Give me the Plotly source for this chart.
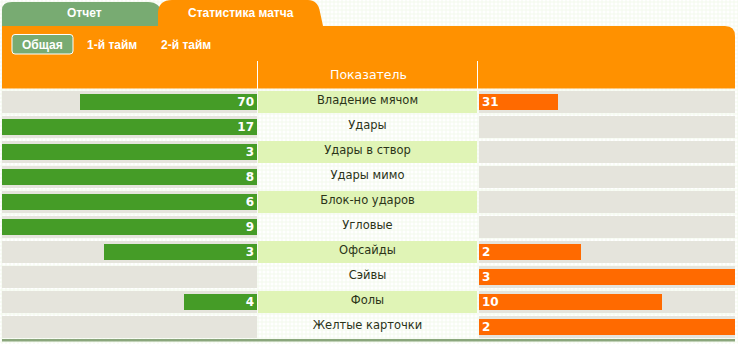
import plotly.graph_objects as go

W, H = 738, 344

# ---- data ----
categories = ["Владение мячом", "Удары", "Удары в створ", "Удары мимо", "Блок-но ударов",
              "Угловые", "Офсайды", "Сэйвы", "Фолы", "Желтые карточки"]
home_values = [70, 17, 3, 8, 6, 9, 3, 0, 4, 0]
away_values = [31, 0, 0, 0, 0, 0, 2, 3, 10, 2]
tab_labels = ["Отчет", "Статистика матча"]
period_labels = ["Общая", "1-й тайм", "2-й тайм"]
header_label = "Показатель"

# colours
C_GRID = "#e6f3d8"
C_TAB_GREEN = "#78ab72"
C_ORANGE = "#ff9100"
C_BAND = "#e5e4dc"
C_CENTER = "#e0f4b6"
C_HOME = "#459c27"
C_AWAY = "#ff6a00"
C_LINE = "#8aa67c"
C_TEXT = "#2b3318"


def px(x):
    return x / W


def py(y):
    return 1 - y / H


home_share = [h / (h + a) if (h + a) > 0 else 0 for h, a in zip(home_values, away_values)]
away_share = [a / (h + a) if (h + a) > 0 else 0 for h, a in zip(home_values, away_values)]
home_text = [str(v) if v > 0 else "" for v in home_values]
away_text = [str(v) if v > 0 else "" for v in away_values]
center_fill = [1 if i % 2 == 0 else 0 for i in range(len(categories))]
full = [1] * len(categories)

fig = go.Figure()

# page background with faint grid pattern (first subplot -> drawn underneath)
fig.add_trace(go.Bar(y=[0], x=[1], orientation="h", width=1,
                     marker=dict(color="white", line=dict(width=0),
                                 pattern=dict(shape="+", size=4, solidity=0.42,
                                              fgcolor=C_GRID, bgcolor="white")),
                     xaxis="x", yaxis="y", hoverinfo="skip", showlegend=False))

num_font = dict(family="DejaVu Sans", size=12, color="white", weight="bold")

# left side
fig.add_trace(go.Bar(y=categories, x=full, orientation="h", width=0.88,
                     marker=dict(color=C_BAND, line=dict(width=0)),
                     xaxis="x2", yaxis="y2", hoverinfo="skip", showlegend=False))
fig.add_trace(go.Bar(y=categories, x=home_share, orientation="h", width=0.64,
                     marker=dict(color=C_HOME, line=dict(width=0)),
                     text=home_text, textposition="inside", insidetextanchor="start",
                     textangle=0, constraintext="none", textfont=num_font,
                     xaxis="x2", yaxis="y2", hoverinfo="skip", showlegend=False))
# right side
fig.add_trace(go.Bar(y=categories, x=full, orientation="h", width=0.88,
                     marker=dict(color=C_BAND, line=dict(width=0)),
                     xaxis="x3", yaxis="y2", hoverinfo="skip", showlegend=False))
fig.add_trace(go.Bar(y=categories, x=away_share, orientation="h", width=0.64,
                     marker=dict(color=C_AWAY, line=dict(width=0)),
                     text=away_text, textposition="inside", insidetextanchor="start",
                     textangle=0, constraintext="none", textfont=num_font,
                     xaxis="x3", yaxis="y2", hoverinfo="skip", showlegend=False))
# centre
fig.add_trace(go.Bar(y=categories, x=center_fill, orientation="h", width=0.88,
                     marker=dict(color=C_CENTER, line=dict(width=0)),
                     xaxis="x4", yaxis="y2", hoverinfo="skip", showlegend=False))
fig.add_trace(go.Scatter(y=categories, x=[0.5] * len(categories), mode="text",
                         text=categories, textposition="middle center",
                         textfont=dict(family="DejaVu Sans", size=11.5, color=C_TEXT),
                         xaxis="x4", yaxis="y2", hoverinfo="skip", showlegend=False))

hidden = dict(showgrid=False, zeroline=False, showticklabels=False, ticks="", showline=False, fixedrange=True)

shapes = []


def rect(x0, y0, x1, y1, color):
    shapes.append(dict(type="rect", xref="paper", yref="paper",
                       x0=px(x0), x1=px(x1), y0=py(y1), y1=py(y0),
                       fillcolor=color, line=dict(width=0), layer="above"))


def path(cmds, color, line=None):
    shapes.append(dict(type="path", xref="paper", yref="paper", path=cmds,
                       fillcolor=color, line=line or dict(width=0), layer="above"))


def P(x, y):
    return f"{px(x):.5f},{py(y):.5f}"


# green tab
path(f"M {P(2,26)} L {P(2,10)} Q {P(2,2)} {P(12,2)} L {P(148,2)} Q {P(160,2)} {P(162,14)} L {P(162,26)} Z",
     C_TAB_GREEN)
# orange tab
path(f"M {P(158,26)} L {P(158,12)} Q {P(159,0)} {P(172,0)} L {P(308,0)} Q {P(318,0)} {P(320,12)} "
     f"L {P(323,26)} Z", C_ORANGE)
# orange panel
path(f"M {P(2,26)} L {P(725,26)} Q {P(735,26)} {P(735,36)} L {P(735,88.5)} L {P(2,88.5)} Z", C_ORANGE)
# button
path(f"M {P(15,34.5)} L {P(70,34.5)} Q {P(73,34.5)} {P(73,37.5)} L {P(73,51)} Q {P(73,54)} {P(70,54)} "
     f"L {P(15,54)} Q {P(12,54)} {P(12,51)} L {P(12,37.5)} Q {P(12,34.5)} {P(15,34.5)} Z",
     C_TAB_GREEN, line=dict(color="white", width=1))
# header separators
for xs in (257.5, 477.5):
    shapes.append(dict(type="line", xref="paper", yref="paper", x0=px(xs), x1=px(xs),
                       y0=py(61), y1=py(89), line=dict(color="white", width=1), layer="above"))
# bottom line
rect(2, 339, 735, 341.5, C_LINE)

annotations = []


def label(x, y, text, size=12, bold=True, family="Liberation Sans", color="white"):
    annotations.append(dict(xref="paper", yref="paper", x=px(x), y=py(y), text=text,
                            showarrow=False, xanchor="center", yanchor="middle",
                            font=dict(family=family, size=size, color=color,
                                      weight="bold" if bold else "normal")))


label(84.5, 13.5, tab_labels[0])
label(241, 13.5, tab_labels[1])
label(42.5, 44.5, period_labels[0])
label(112, 44.5, period_labels[1])
label(186, 44.5, period_labels[2])
label(368, 75, header_label, size=12.5, bold=False, family="DejaVu Sans")

fig.update_layout(
    width=W, height=H, margin=dict(l=0, r=0, t=0, b=0),
    paper_bgcolor="white", plot_bgcolor="rgba(0,0,0,0)",
    barmode="overlay", bargap=0,
    xaxis=dict(domain=[0, 1], range=[0, 1], anchor="y", **hidden),
    yaxis=dict(domain=[0, 1], range=[-0.5, 0.5], anchor="x", **hidden),
    xaxis2=dict(domain=[px(2), px(257)], range=[1, 0], anchor="y2", **hidden),
    xaxis3=dict(domain=[px(479), px(735)], range=[0, 1], anchor="y2", **hidden),
    xaxis4=dict(domain=[px(258), px(477)], range=[0, 1], anchor="y2", **hidden),
    yaxis2=dict(domain=[py(338.5), py(88.5)], range=[9.5, -0.5], type="category",
                anchor="x2", **hidden),
    shapes=shapes, annotations=annotations,
)

fig.write_html("out.html")
